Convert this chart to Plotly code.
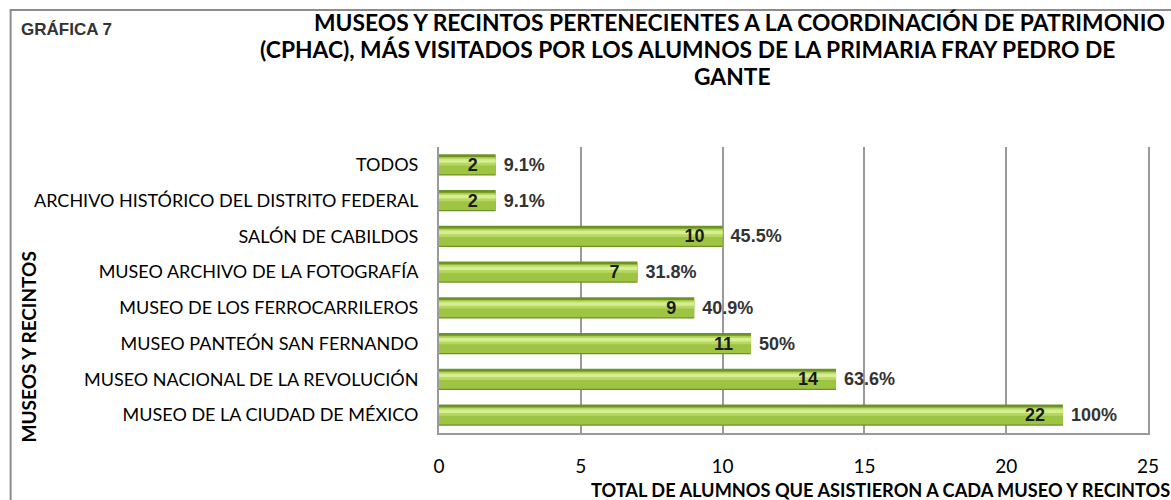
import plotly.graph_objects as go

CATEGORIAS = ['MUSEO DE LA CIUDAD DE MÉXICO', 'MUSEO NACIONAL DE LA REVOLUCIÓN',
              'MUSEO PANTEÓN SAN FERNANDO', 'MUSEO DE LOS FERROCARRILEROS',
              'MUSEO ARCHIVO DE LA FOTOGRAFÍA', 'SALÓN DE CABILDOS',
              'ARCHIVO HISTÓRICO DEL DISTRITO FEDERAL', 'TODOS']
ALUMNOS = [22, 14, 11, 9, 7, 10, 2, 2]
PORCENTAJES = ['100%', '63.6%', '50%', '40.9%', '31.8%', '45.5%', '9.1%', '9.1%']
X_TICKS = [0, 5, 10, 15, 20, 25]

CALIBRI = 'Lato, Open Sans, sans-serif'
ARIAL = 'Liberation Sans, Arial, sans-serif'
GRIS = '#9a9a9a'

# zona de trazado en pixeles (para colocar las anotaciones)
L, R, T, B = 439, 1154, 147, 433


def px_x(x):
    return (x - L) / (R - L)


def px_y(y):
    return (B - y) / (B - T)


fig = go.Figure()
# cuerpo de la barra + capas mas claras para el efecto cilindro
fig.add_trace(go.Bar(y=CATEGORIAS, x=ALUMNOS, orientation='h', width=0.6,
                     marker=dict(color='#6f9226', line=dict(width=0)), hoverinfo='skip'))
fig.add_trace(go.Bar(y=CATEGORIAS, x=ALUMNOS, orientation='h', width=0.48, offset=-0.26,
                     marker=dict(color='#9ec443', line=dict(width=0)), hoverinfo='skip'))
fig.add_trace(go.Bar(y=CATEGORIAS, x=ALUMNOS, orientation='h', width=0.22, offset=-0.02,
                     marker=dict(color='#b6d862', line=dict(width=0)), hoverinfo='skip'))
fig.add_trace(go.Bar(y=CATEGORIAS, x=ALUMNOS, orientation='h', width=0.1, offset=0.06,
                     marker=dict(color='#d6ee90', line=dict(width=0)), hoverinfo='skip'))
# etiquetas: numero dentro, porcentaje fuera
fig.add_trace(go.Bar(y=CATEGORIAS, x=ALUMNOS, orientation='h', width=0.6,
                     marker=dict(color='rgba(0,0,0,0)', line=dict(width=0)),
                     text=ALUMNOS, texttemplate='%{text}\u00a0\u00a0\u00a0', textposition='inside',
                     insidetextanchor='end', constraintext='none', textangle=0,
                     textfont=dict(family=ARIAL, size=18, color='#1a1a1a', weight='bold'),
                     hoverinfo='skip'))
fig.add_trace(go.Bar(y=CATEGORIAS, x=ALUMNOS, orientation='h', width=0.6,
                     marker=dict(color='rgba(0,0,0,0)', line=dict(width=0)),
                     text=PORCENTAJES, texttemplate='\u00a0%{text}', textposition='outside',
                     constraintext='none', cliponaxis=False, textangle=0,
                     textfont=dict(family=ARIAL, size=18, color='#333333', weight='bold'),
                     hoverinfo='skip'))

fig.update_layout(
    width=1171, height=500,
    margin=dict(l=L, r=1171 - R, t=T, b=500 - B),
    paper_bgcolor='white', plot_bgcolor='white',
    barmode='overlay', showlegend=False,
    font=dict(family=CALIBRI, color='#000000'),
    xaxis=dict(range=[0, 25], tickvals=X_TICKS, showgrid=True, gridcolor=GRIS, gridwidth=1.5,
               showline=True, linecolor=GRIS, linewidth=2, zeroline=False,
               tickfont=dict(family=CALIBRI, size=19, color='#000000'),
               ticklabelstandoff=15),
    yaxis=dict(categoryorder='array', categoryarray=CATEGORIAS,
               showline=True, mirror=True, linecolor=GRIS, linewidth=2,
               showgrid=False, ticks='',
               tickfont=dict(family=CALIBRI, size=18, color='#000000'),
               ticklabelstandoff=15),
    shapes=[dict(type='rect', xref='paper', yref='paper',
                 x0=px_x(7), x1=px_x(1190), y0=px_y(520), y1=px_y(10),
                 line=dict(color='#8c8c8c', width=2), fillcolor='rgba(0,0,0,0)', layer='below')],
    annotations=[
        dict(text='GRÁFICA 7', xref='paper', yref='paper', x=px_x(15), y=px_y(29),
             xanchor='left', yanchor='middle', showarrow=False,
             font=dict(family=ARIAL, size=17, color='#333333', weight='bold')),
        dict(text='MUSEOS Y RECINTOS PERTENECIENTES A LA COORDINACIÓN DE PATRIMONIO',
             xref='paper', yref='paper', x=px_x(311), y=px_y(22),
             xanchor='left', yanchor='middle', showarrow=False,
             font=dict(family=CALIBRI, size=22.8, color='#000000', weight='bold')),
        dict(text='(CPHAC), MÁS VISITADOS POR LOS ALUMNOS DE LA PRIMARIA FRAY PEDRO DE',
             xref='paper', yref='paper', x=px_x(256), y=px_y(49),
             xanchor='left', yanchor='middle', showarrow=False,
             font=dict(family=CALIBRI, size=22.8, color='#000000', weight='bold')),
        dict(text='GANTE', xref='paper', yref='paper', x=px_x(735), y=px_y(76),
             xanchor='center', yanchor='middle', showarrow=False,
             font=dict(family=CALIBRI, size=22.8, color='#000000', weight='bold')),
        dict(text='MUSEOS Y RECINTOS', xref='paper', yref='paper', x=px_x(25),
             y=px_y(347), xanchor='center', yanchor='middle', textangle=-90,
             showarrow=False, font=dict(family=CALIBRI, size=19, color='#000000', weight='bold')),
        dict(text='TOTAL DE ALUMNOS QUE ASISTIERON A CADA MUSEO Y RECINTOS',
             xref='paper', yref='paper', x=px_x(590), y=px_y(490),
             xanchor='left', yanchor='middle', showarrow=False,
             font=dict(family=CALIBRI, size=18.2, color='#000000', weight='bold')),
    ],
)

fig.write_html('out.html', config={'displayModeBar': False},
               post_script="document.body.style.margin='0';")
